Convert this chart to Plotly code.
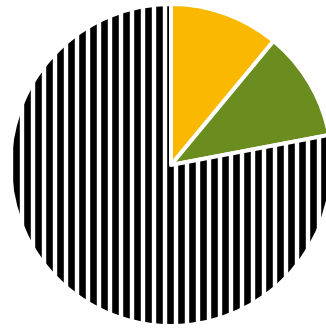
import plotly.graph_objects as go

labels = ["A", "B", "C"]
values = [11, 11, 78]
colors = ["#FBB800", "#6B8C1E", "#FFFFFF"]
shapes = ["", "", "|"]

fig = go.Figure(go.Pie(
    labels=labels,
    values=values,
    sort=False,
    direction="clockwise",
    rotation=0,
    textinfo="none",
    hoverinfo="label+percent",
    marker=dict(
        colors=colors,
        line=dict(color="white", width=4),
        pattern=dict(shape=shapes, fgcolor="black", bgcolor="white", size=11, solidity=0.6),
    ),
    domain=dict(x=[0, 1], y=[4 / 330, 326 / 330]),
))
fig.update_layout(
    width=342, height=330,
    margin=dict(l=0, r=0, t=0, b=0),
    showlegend=False,
    paper_bgcolor="white",
)
fig.write_html(
    "out.html",
    config={"responsive": False, "displayModeBar": False},
    post_script="document.body.style.margin='0';document.body.style.overflow='hidden';",
)
